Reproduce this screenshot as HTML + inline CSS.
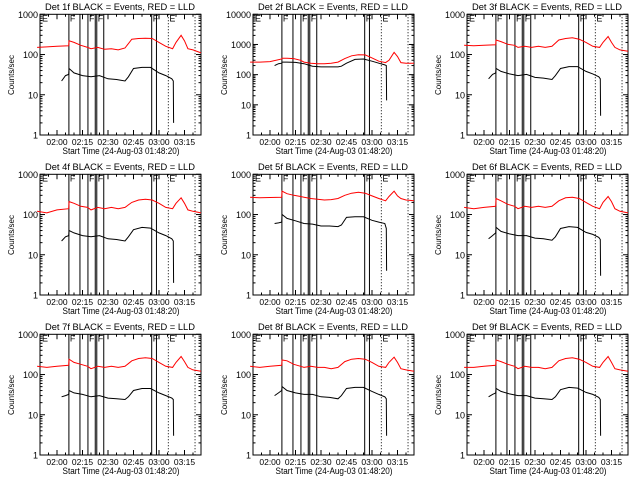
<!DOCTYPE html>
<html><head><meta charset="utf-8"><style>
html,body{margin:0;padding:0;background:#fff;}
svg{display:block;font-family:"Liberation Sans",sans-serif;}
</style></head><body>
<svg id="root" width="640" height="480" viewBox="0 0 640 480"></svg>
<script>
// shared time samples (minutes relative to 02:00)
const redTimes = [-11.7,-6,0,6.9,7.1,10,14,18,20,24,28,32,36,40,44,48,52,56,60,64,68,70,73,75,77,80,84.7];
const blackTimes = [2.7,5,6.9,7.1,10,15,20,25,30,35,40,42,45,50,55,60,64,67.5,68.4,68.6];
const xTickLabels = ["02:00","02:15","02:30","02:45","03:00","03:15"];
const xTickMinutes = [0,15,30,45,60,75];
const solidLines = [7,13.5,18.2,22.5,23.4,27.5,55.7,58.5];
const dottedLines = [65.5,81.2];
const panelTitles = ["Det 1f","Det 2f","Det 3f","Det 4f","Det 5f","Det 6f","Det 7f","Det 8f","Det 9f"];
const panelDecades = [3,4,3,3,3,3,3,3,3];
const red1 = [150,155,160,165,220,200,170,150,140,150,135,140,130,145,240,250,255,250,200,160,140,200,300,220,140,130,110];
const red2 = [260,260,270,330,350,350,340,300,260,240,230,230,240,260,340,420,460,450,360,280,250,300,550,400,250,240,240];
const red3 = [170,165,170,175,230,210,180,170,150,160,150,160,150,160,230,250,260,240,200,160,150,200,280,200,150,130,120];
const red4 = [120,110,130,140,210,190,160,150,130,150,140,150,140,150,200,230,240,230,190,150,140,190,260,190,130,120,110];
const red5 = [270,260,265,270,380,330,300,280,270,250,240,230,235,250,300,340,360,340,290,250,220,280,380,290,250,230,220];
const red6 = [150,140,150,160,250,220,180,160,140,160,150,160,150,160,220,260,270,250,200,160,140,200,280,210,140,120,110];
const red7 = [160,150,160,170,240,200,180,160,140,160,150,160,150,160,220,250,260,250,200,160,150,200,280,210,150,130,120];
const red8 = [160,150,160,170,230,220,180,160,150,160,150,150,140,150,210,240,250,240,200,160,150,200,270,200,140,130,120];
const red9 = [150,150,160,170,230,210,180,160,140,160,150,150,140,150,220,250,260,240,200,160,150,200,280,200,140,130,120];
const black1 = [22,30,32,45,35,30,28,30,25,24,22,28,45,48,48,35,30,25,22,2];
const black2 = [200,230,240,260,260,255,230,190,180,180,180,190,240,320,330,280,240,210,200,14];
const black3 = [25,32,35,45,38,33,30,32,27,26,24,30,45,50,50,38,33,28,25,3];
const black4 = [22,28,30,40,35,30,28,30,25,24,22,28,42,48,46,35,30,25,22,2];
const black5 = [60,62,65,100,80,70,60,58,52,52,50,55,85,88,88,72,65,60,45,4];
const black6 = [25,30,35,48,38,33,30,30,26,25,23,28,45,50,48,36,32,27,24,3];
const black7 = [28,30,32,40,35,32,28,30,26,25,24,28,40,45,45,35,30,26,24,3];
const black8 = [30,35,40,50,40,35,32,32,28,27,25,30,45,48,48,38,32,28,25,3];
const black9 = [28,32,35,45,38,33,30,30,26,25,24,28,42,48,46,36,32,27,24,3];
const redSeries = [red1,red2,red3,red4,red5,red6,red7,red8,red9];
const blackSeries = [black1,black2,black3,black4,black5,black6,black7,black8,black9];

const NS = "http://www.w3.org/2000/svg";
const root = document.getElementById("root");
function mk(tag, attrs, parent){const e=document.createElementNS(NS,tag);for(const k in attrs)e.setAttribute(k,attrs[k]);parent.appendChild(e);return e;}

const PX0=40, PX1=201, PY0=14.3, PY1=135;
for(let p=0;p<9;p++){
  const ox=Math.round((p%3)*213.4), oy=Math.floor(p/3)*160;
  const g=mk("g",{transform:`translate(${ox},${oy})`},root);
  
  
  const dec=panelDecades[p];
  const xs=t=>57+1.7*t;
  const ys=v=>PY1-(PY1-PY0)*Math.log10(v)/dec;
  // title
  const tt=mk("text",{x:120,y:10,"text-anchor":"middle","font-size":"9.5",textLength:"150",lengthAdjust:"spacingAndGlyphs"},g);
  tt.textContent=panelTitles[p]+" BLACK = Events, RED = LLD";
  
  
  // axes box
  const box=mk("rect",{x:PX0,y:PY0,width:PX1-PX0,height:PY1-PY0,fill:"none",stroke:"#000","stroke-width":"1"},g);
  
  
  // y ticks
  for(let d=0;d<=dec;d++){
    const v=Math.pow(10,d), y=ys(v);
    mk("line",{x1:PX0,x2:PX0+5,y1:y,y2:y,stroke:"#000"},g);
    mk("line",{x1:PX1-5,x2:PX1,y1:y,y2:y,stroke:"#000"},g);
    const lb=mk("text",{x:PX0-2,y:y+3.5,"text-anchor":"end","font-size":"9"},g);
    lb.textContent=String(v);
    
    
    if(d<dec){for(let m=2;m<10;m++){const ym=ys(v*m);
      mk("line",{x1:PX0,x2:PX0+2.5,y1:ym,y2:ym,stroke:"#000"},g);
      mk("line",{x1:PX1-2.5,x2:PX1,y1:ym,y2:ym,stroke:"#000"},g);}}
  }
  const yt=mk("text",{x:14,y:75,"text-anchor":"middle","font-size":"8",transform:"rotate(-90 14 75)"},g);
  yt.textContent="Counts/sec";
  
  
  // x ticks
  for(let m=-10;m<=80;m+=5){const x=xs(m);const L=(m%15===0)?5:2.5;
    mk("line",{x1:x,x2:x,y1:PY1,y2:PY1-L,stroke:"#000"},g);
    mk("line",{x1:x,x2:x,y1:PY0,y2:PY0+L,stroke:"#000"},g);}
  xTickLabels.forEach((s,i)=>{const lb=mk("text",{x:xs(xTickMinutes[i]),y:145,"text-anchor":"middle","font-size":"8.5"},g);
    lb.textContent=s;
    
    });
  const xt=mk("text",{x:121,y:154,"text-anchor":"middle","font-size":"9",textLength:"117",lengthAdjust:"spacingAndGlyphs"},g);
  xt.textContent="Start Time (24-Aug-03 01:48:20)";
  
  
  // vertical marker lines
  solidLines.forEach(t=>{const l=mk("line",{x1:xs(t),x2:xs(t),y1:PY0,y2:PY1,stroke:"#000"},g);
    
    });
  dottedLines.forEach(t=>{const l=mk("line",{x1:xs(t),x2:xs(t),y1:PY0,y2:PY1,stroke:"#000","stroke-dasharray":"1,2"},g);
    
    });
  [[PX0+2,"E"],[xs(solidLines[0])+1,"F"],[xs(solidLines[2])+1,"F"],[xs(solidLines[4])+1,"F"],[xs(solidLines[6])+1,"F"],[xs(dottedLines[0])+1,"E"]].forEach(a=>{
    const f=mk("text",{x:a[0],y:PY0+7,"font-size":"9"},g);f.textContent=a[1];
    
    });
  // series
  const rp=redTimes.map((t,i)=>xs(t).toFixed(1)+","+ys(redSeries[p][i]).toFixed(1)).join(" ");
  const r=mk("polyline",{points:rp,fill:"none",stroke:"#f00","stroke-width":"1"},g);
  
  
  const bp=blackTimes.map((t,i)=>xs(t).toFixed(1)+","+ys(blackSeries[p][i]).toFixed(1)).join(" ");
  const b=mk("polyline",{points:bp,fill:"none",stroke:"#000","stroke-width":"1"},g);
  
  
}
</script>
</body></html>
